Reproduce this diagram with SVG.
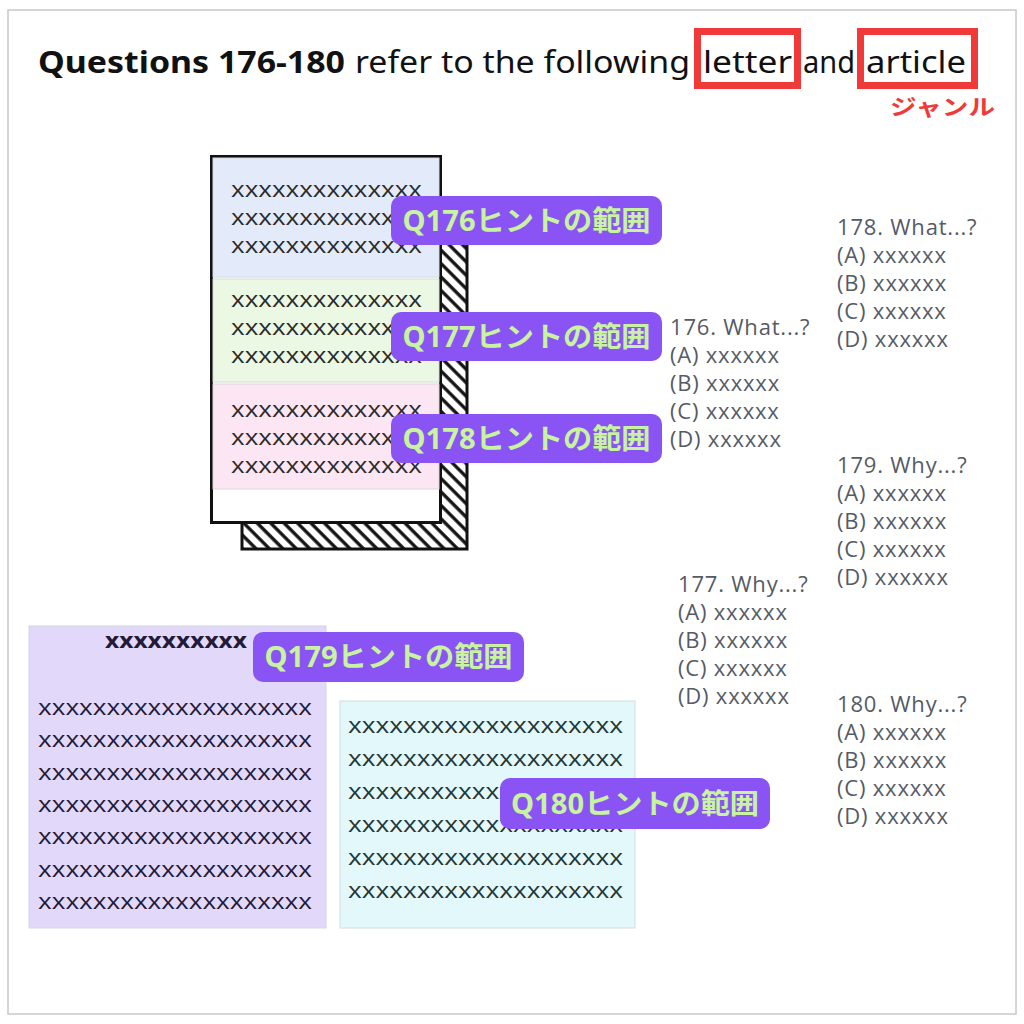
<svg xmlns="http://www.w3.org/2000/svg" width="1024" height="1024" viewBox="0 0 1024 1024">
<defs>
<pattern id="hatch" width="9.5" height="9.5" patternUnits="userSpaceOnUse" patternTransform="rotate(-45)">
<rect width="9.5" height="9.5" fill="#fff"/>
<line x1="2" y1="0" x2="2" y2="9.5" stroke="#111" stroke-width="3.3"/>
</pattern>
</defs>
<style>
.title{font-family:"Noto Sans","Open Sans",sans-serif;font-size:30px;fill:#111}
.red{fill:none;stroke:#f03a3a;stroke-width:7}
.genre{font-family:"Noto Sans CJK JP",sans-serif;font-size:22px;font-weight:bold;fill:#f03a3a}
.px{font-family:"Open Sans","Noto Sans",sans-serif;font-size:22px;fill:#2b2b2b}
.pl{font-family:"Open Sans","Noto Sans",sans-serif;font-size:22px;fill:#231a3a}
.pc{font-family:"Open Sans","Noto Sans",sans-serif;font-size:22px;fill:#243636}
.lab rect{fill:#8a54f4}
.lab text{font-family:"Noto Sans","Noto Sans CJK JP",sans-serif;font-size:28px;font-weight:bold;fill:#c8f3a0;text-anchor:middle}
.q{font-family:"Open Sans","Noto Sans",sans-serif;font-size:22px;letter-spacing:0.8px;fill:#555b66}
</style>
<rect x="8" y="10" width="1008" height="1004" fill="#fff" stroke="#c8c8c8" stroke-width="1.5"/>

<g id="title">
<text class="title" x="38" y="73" font-weight="bold" textLength="307" lengthAdjust="spacingAndGlyphs">Questions 176-180</text>
<text class="title" x="355" y="73" textLength="335" lengthAdjust="spacingAndGlyphs">refer to the following</text>
<text class="title" x="703" y="73" textLength="89" lengthAdjust="spacingAndGlyphs">letter</text>
<text class="title" x="803" y="73" textLength="52" lengthAdjust="spacingAndGlyphs">and</text>
<text class="title" x="866" y="73" textLength="100" lengthAdjust="spacingAndGlyphs">article</text>
<rect class="red" x="697.5" y="31.5" width="100" height="54"/>
<rect class="red" x="860.5" y="31.5" width="114" height="54"/>
<text class="genre" x="890" y="115" textLength="105" lengthAdjust="spacingAndGlyphs">ジャンル</text>
</g>

<g id="letter">
<rect x="242" y="238" width="225" height="311" fill="url(#hatch)" stroke="#111" stroke-width="3"/>
<rect x="211.5" y="156.5" width="229" height="366" fill="#fff" stroke="#111" stroke-width="3"/>
<rect x="213" y="158" width="226" height="119" fill="#e3ebfb" stroke="#d4d8e0" stroke-width="1"/>
<rect x="213" y="279" width="226" height="103" fill="#eaf8e4" stroke="#d6dcd6" stroke-width="1"/>
<rect x="213" y="384" width="226" height="105" fill="#fde6f3" stroke="#dcd6da" stroke-width="1"/>
<text class="px" x="231" y="197" textLength="191" lengthAdjust="spacingAndGlyphs">xxxxxxxxxxxxxx</text>
<text class="px" x="231" y="225" textLength="191" lengthAdjust="spacingAndGlyphs">xxxxxxxxxxxxxx</text>
<text class="px" x="231" y="253" textLength="191" lengthAdjust="spacingAndGlyphs">xxxxxxxxxxxxxx</text>
<text class="px" x="231" y="307" textLength="191" lengthAdjust="spacingAndGlyphs">xxxxxxxxxxxxxx</text>
<text class="px" x="231" y="335" textLength="191" lengthAdjust="spacingAndGlyphs">xxxxxxxxxxxxxx</text>
<text class="px" x="231" y="363" textLength="191" lengthAdjust="spacingAndGlyphs">xxxxxxxxxxxxxx</text>
<text class="px" x="231" y="417" textLength="191" lengthAdjust="spacingAndGlyphs">xxxxxxxxxxxxxx</text>
<text class="px" x="231" y="445" textLength="191" lengthAdjust="spacingAndGlyphs">xxxxxxxxxxxxxx</text>
<text class="px" x="231" y="473" textLength="191" lengthAdjust="spacingAndGlyphs">xxxxxxxxxxxxxx</text>
</g>

<g id="article1">
<rect x="29" y="626" width="297" height="302" fill="#e2d9fa" stroke="#d6d2e2" stroke-width="1"/>
<text class="pl" x="105" y="648" font-weight="bold" textLength="142" lengthAdjust="spacingAndGlyphs">xxxxxxxxxx</text>
<text class="pl" x="38" y="715" textLength="274" lengthAdjust="spacingAndGlyphs">xxxxxxxxxxxxxxxxxxxx</text>
<text class="pl" x="38" y="747" textLength="274" lengthAdjust="spacingAndGlyphs">xxxxxxxxxxxxxxxxxxxx</text>
<text class="pl" x="38" y="780" textLength="274" lengthAdjust="spacingAndGlyphs">xxxxxxxxxxxxxxxxxxxx</text>
<text class="pl" x="38" y="812" textLength="274" lengthAdjust="spacingAndGlyphs">xxxxxxxxxxxxxxxxxxxx</text>
<text class="pl" x="38" y="844" textLength="274" lengthAdjust="spacingAndGlyphs">xxxxxxxxxxxxxxxxxxxx</text>
<text class="pl" x="38" y="877" textLength="274" lengthAdjust="spacingAndGlyphs">xxxxxxxxxxxxxxxxxxxx</text>
<text class="pl" x="38" y="909" textLength="274" lengthAdjust="spacingAndGlyphs">xxxxxxxxxxxxxxxxxxxx</text>
</g>

<g id="article2">
<rect x="340" y="701" width="295" height="227" fill="#e3f8fa" stroke="#d2dcdc" stroke-width="1"/>
<text class="pc" x="348" y="733" textLength="275" lengthAdjust="spacingAndGlyphs">xxxxxxxxxxxxxxxxxxxx</text>
<text class="pc" x="348" y="766" textLength="275" lengthAdjust="spacingAndGlyphs">xxxxxxxxxxxxxxxxxxxx</text>
<text class="pc" x="348" y="799" textLength="275" lengthAdjust="spacingAndGlyphs">xxxxxxxxxxxxxxxxxxxx</text>
<text class="pc" x="348" y="832" textLength="275" lengthAdjust="spacingAndGlyphs">xxxxxxxxxxxxxxxxxxxx</text>
<text class="pc" x="348" y="865" textLength="275" lengthAdjust="spacingAndGlyphs">xxxxxxxxxxxxxxxxxxxx</text>
<text class="pc" x="348" y="898" textLength="275" lengthAdjust="spacingAndGlyphs">xxxxxxxxxxxxxxxxxxxx</text>
</g>

<g id="label176" class="lab"><rect x="391" y="196" width="271" height="49" rx="10"/><text x="526.5" y="231" textLength="248" lengthAdjust="spacingAndGlyphs">Q176ヒントの範囲</text></g>
<g id="label177" class="lab"><rect x="391" y="312" width="271" height="49" rx="10"/><text x="526.5" y="347" textLength="248" lengthAdjust="spacingAndGlyphs">Q177ヒントの範囲</text></g>
<g id="label178" class="lab"><rect x="391" y="414" width="271" height="49" rx="10"/><text x="526.5" y="449" textLength="248" lengthAdjust="spacingAndGlyphs">Q178ヒントの範囲</text></g>
<g id="label179" class="lab"><rect x="253" y="632" width="271" height="50" rx="10"/><text x="388.5" y="667" textLength="248" lengthAdjust="spacingAndGlyphs">Q179ヒントの範囲</text></g>
<g id="label180" class="lab"><rect x="500" y="778" width="270" height="51" rx="10"/><text x="635" y="814" textLength="248" lengthAdjust="spacingAndGlyphs">Q180ヒントの範囲</text></g>

<g id="q176" class="q">
<text x="670" y="335">176. What...?</text>
<text x="670" y="363">(A) xxxxxx</text>
<text x="670" y="391">(B) xxxxxx</text>
<text x="670" y="419">(C) xxxxxx</text>
<text x="670" y="447">(D) xxxxxx</text>
</g>
<g id="q177" class="q">
<text x="678" y="592">177. Why...?</text>
<text x="678" y="620">(A) xxxxxx</text>
<text x="678" y="648">(B) xxxxxx</text>
<text x="678" y="676">(C) xxxxxx</text>
<text x="678" y="704">(D) xxxxxx</text>
</g>
<g id="q178" class="q">
<text x="837" y="235">178. What...?</text>
<text x="837" y="263">(A) xxxxxx</text>
<text x="837" y="291">(B) xxxxxx</text>
<text x="837" y="319">(C) xxxxxx</text>
<text x="837" y="347">(D) xxxxxx</text>
</g>
<g id="q179" class="q">
<text x="837" y="473">179. Why...?</text>
<text x="837" y="501">(A) xxxxxx</text>
<text x="837" y="529">(B) xxxxxx</text>
<text x="837" y="557">(C) xxxxxx</text>
<text x="837" y="585">(D) xxxxxx</text>
</g>
<g id="q180" class="q">
<text x="837" y="712">180. Why...?</text>
<text x="837" y="740">(A) xxxxxx</text>
<text x="837" y="768">(B) xxxxxx</text>
<text x="837" y="796">(C) xxxxxx</text>
<text x="837" y="824">(D) xxxxxx</text>
</g>
<g id="connectors"/>
</svg>
